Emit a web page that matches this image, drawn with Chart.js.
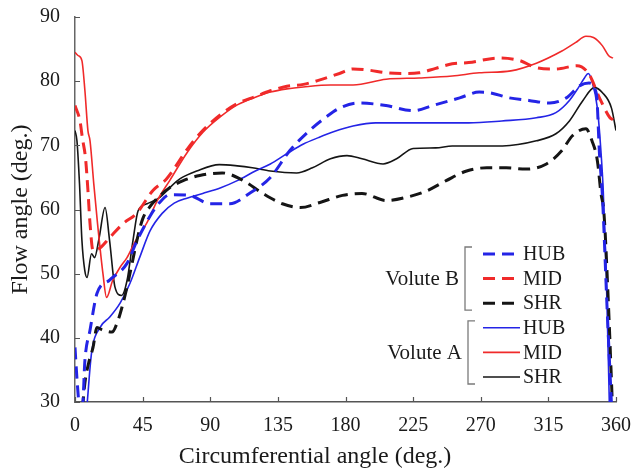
<!DOCTYPE html>
<html>
<head>
<meta charset="utf-8">
<script src="https://cdn.jsdelivr.net/npm/chart.js@4/dist/chart.umd.min.js"></script>
<style>
  html, body { margin: 0; padding: 0; background: #ffffff; }
  #chart { display: block; }
</style>
</head>
<body>
<canvas id="chart" width="631" height="471"></canvas>
<script>
// Flow angle around the volute circumference, three spans per volute.
// Circumferential angle (deg.)
const xTicks = [0, 45, 90, 135, 180, 225, 270, 315, 360];
const yTicks = [30, 40, 50, 60, 70, 80, 90];

// Volute B, hub (dashed)
const hubBX = [0, 1.5, 3, 5, 6.6, 10, 14.6, 23, 34.6, 41, 50, 56, 63, 76, 90, 103, 116, 130, 143, 156, 167, 176, 189, 207, 225, 238, 256, 269, 276, 289, 302, 316, 327, 336, 342, 347, 349, 351, 354, 357];
const hubBY = [38.5, 33, 29.5, 29.5, 36.5, 41.2, 46.9, 49, 51.6, 55, 59, 61, 62.3, 62.2, 60.9, 60.9, 62.5, 65, 69.2, 72.3, 74.4, 75.8, 76.6, 76.2, 75.4, 76.2, 77.4, 78.3, 78.2, 77.4, 77, 76.6, 77.4, 79.3, 79.7, 78, 68.7, 61.9, 45, 29.5];

// Volute B, mid span (dashed)
const midBX = [0, 3.3, 5, 7, 8.6, 10, 12, 16.6, 23, 32, 41, 52, 61, 75, 85, 97, 108, 120, 130, 141, 152, 163, 176, 185, 196, 207, 218, 229, 240, 251, 262, 282, 296, 307, 320, 334, 342, 349, 356, 358];
const midBY = [76.2, 73.8, 71, 68, 63, 57.8, 53.6, 54, 55.6, 57.8, 59.4, 63, 64.8, 69.5, 72.3, 74.8, 76.5, 77.6, 78.5, 79.2, 79.5, 80.2, 81.2, 81.9, 81.7, 81.3, 81.2, 81.3, 82, 82.7, 82.9, 83.6, 83.2, 82.1, 81.9, 82.4, 81.1, 77.4, 74.3, 74];

// Volute B, shroud (dashed)
const shrBX = [5, 6.6, 9, 12, 14.6, 18.6, 24.6, 28.6, 32, 34.6, 38, 41, 45, 50, 56, 63, 72, 83, 98, 112, 125, 138, 150, 163, 178, 191, 207, 220.6, 234, 247, 260.6, 274, 287, 300, 313.7, 324, 331, 340, 344, 347.6, 350, 352, 355, 357.6];
const shrBY = [29, 33, 36, 38.5, 41.6, 41.2, 40.9, 42.7, 45.4, 47.9, 51.6, 55, 58.5, 60.5, 62, 63.4, 64.5, 65.3, 65.7, 64.5, 62.5, 60.9, 60.3, 61.1, 62.2, 62.5, 61.4, 61.9, 62.9, 64.5, 66, 66.5, 66.5, 66.3, 67.1, 69.2, 71.5, 72.6, 70.7, 67.6, 62.5, 59.4, 45, 29.5];

// Volute A, hub (solid)
const hubAX = [8, 11, 16.6, 23, 30, 36.6, 43, 50, 58, 66, 75, 85, 97, 108, 120, 130, 141, 152, 162, 172, 185, 200, 230, 262, 284, 307, 320, 329, 335, 339, 341.5, 344, 347.6, 350, 351.5, 353.5, 355.6];
const hubAY = [29.5, 37.6, 41.6, 43.2, 45.4, 48.5, 52.5, 56.7, 59.4, 61, 61.8, 62.5, 63.4, 64.5, 66, 67.1, 68.7, 70.2, 71.2, 72.1, 73, 73.5, 73.5, 73.5, 73.8, 74.3, 75.1, 77, 79, 80.5, 81.2, 80, 75.8, 69, 63, 50, 29.5];

// Volute A, mid span (solid)
const midAX = [0, 2, 4.6, 6.6, 8.6, 10, 12.5, 15, 18.6, 21, 25, 30, 34.6, 40, 48, 55, 63, 75, 85, 97, 108, 120, 130, 141, 152, 170, 185, 207, 229, 251, 269, 290, 307, 324, 333, 340, 345, 351, 355, 358];
const midAY = [84.5, 84, 83.2, 78.5, 72.3, 70.7, 64, 57.8, 50, 46.3, 48.9, 51, 52.5, 55, 58, 61.5, 64.5, 69, 72, 74.5, 76.3, 77.5, 78.3, 78.8, 79.1, 79.4, 79.4, 80.3, 80.5, 80.8, 81.3, 81.6, 82.8, 84.7, 86, 87, 86.8, 85.5, 84, 83.6];

// Volute A, shroud (solid)
const shrAX = [0, 1.3, 3, 4.6, 6.5, 8, 11, 13, 16, 20, 23, 26.6, 31, 34.6, 38.6, 42, 48, 56.5, 63, 70, 81, 96, 108, 118, 130, 147.5, 158, 170, 181, 191, 205, 214, 225, 240, 251, 269, 284.5, 307, 320, 329, 338, 345.6, 351, 357, 360];
const shrAY = [72.3, 70.7, 64, 55.2, 50.5, 49.4, 53.1, 52.5, 55.5, 60.3, 55.2, 47.9, 46.6, 48.9, 55.2, 59.8, 60.9, 61.9, 63.4, 64.8, 66, 67, 66.8, 66.5, 66, 65.7, 66.5, 67.9, 68.4, 67.9, 67.1, 67.9, 69.5, 69.6, 69.9, 69.9, 69.9, 70.7, 71.8, 73.8, 77, 79, 78.2, 75.8, 72.3];

const BLUE = '#2424e6';
const RED = '#f02a2a';
const BLACK = '#151515';
const TEXT = '#1a1a1a';
const SERIF = '"Liberation Serif", "Times New Roman", serif';
const X_TITLE = 'Circumferential angle (deg.)';

function points(xs, ys) {
  return xs.map((x, i) => ({ x: x, y: ys[i] }));
}

function series(label, group, xs, ys, color, dashed) {
  return {
    label: label,
    group: group,
    data: points(xs, ys),
    borderColor: color,
    backgroundColor: color,
    borderWidth: dashed ? 3 : 1.6,
    borderDash: dashed ? [12, 7] : [],
    pointRadius: 0,
    fill: false,
    cubicInterpolationMode: 'monotone'
  };
}

const datasets = [
  series('HUB', 'Volute B', hubBX, hubBY, BLUE, true),
  series('MID', 'Volute B', midBX, midBY, RED, true),
  series('SHR', 'Volute B', shrBX, shrBY, BLACK, true),
  series('HUB', 'Volute A', hubAX, hubAY, BLUE, false),
  series('MID', 'Volute A', midAX, midAY, RED, false),
  series('SHR', 'Volute A', shrAX, shrAY, BLACK, false)
];

// Short tick marks pointing into the plot area
const inwardTicks = {
  id: 'inwardTicks',
  afterDraw(chart) {
    const { ctx, chartArea, scales } = chart;
    ctx.save();
    ctx.strokeStyle = '#555555';
    ctx.lineWidth = 1.2;
    ctx.beginPath();
    xTicks.forEach(v => {
      const px = Math.round(scales.x.getPixelForValue(v)) + 0.5;
      ctx.moveTo(px, chartArea.bottom);
      ctx.lineTo(px, chartArea.bottom - 5);
    });
    yTicks.forEach(v => {
      const py = Math.round(scales.y.getPixelForValue(v)) + 0.5;
      ctx.moveTo(chartArea.left, py);
      ctx.lineTo(chartArea.left + 5, py);
    });
    ctx.stroke();
    ctx.restore();
  }
};

// Horizontal axis title, set a little left of the plot centre
const xAxisTitle = {
  id: 'xAxisTitle',
  afterDraw(chart) {
    const { ctx, chartArea } = chart;
    ctx.save();
    ctx.fillStyle = TEXT;
    ctx.font = '24px ' + SERIF;
    ctx.textAlign = 'center';
    ctx.textBaseline = 'alphabetic';
    ctx.fillText(X_TITLE, chartArea.left + 240, chartArea.bottom + 61);
    ctx.restore();
  }
};

// Grouped legend: one bracket per volute, three line samples each
const groupedLegend = {
  id: 'groupedLegend',
  afterDatasetsDraw(chart) {
    const { ctx, chartArea } = chart;
    const lineX0 = chartArea.left + 408;
    const lineX1 = lineX0 + 37;
    const textX = lineX1 + 3;
    const rowY0 = chartArea.top + 237;
    const rowStep = 24.6;
    ctx.save();
    chart.data.datasets.forEach((ds, i) => {
      const y = rowY0 + i * rowStep;
      ctx.strokeStyle = ds.borderColor;
      ctx.lineWidth = ds.borderWidth;
      ctx.setLineDash(ds.borderDash);
      ctx.beginPath();
      ctx.moveTo(lineX0, y);
      ctx.lineTo(lineX1, y);
      ctx.stroke();
      ctx.setLineDash([]);
      ctx.fillStyle = TEXT;
      ctx.font = '20px ' + SERIF;
      ctx.textAlign = 'left';
      ctx.textBaseline = 'middle';
      ctx.fillText(ds.label, textX, y + 1);
    });
    const groups = ['Volute B', 'Volute A'];
    groups.forEach((g, gi) => {
      const yTop = rowY0 + gi * 3 * rowStep - 7;
      const yBot = rowY0 + (gi * 3 + 2) * rowStep + 7;
      const bx = lineX0 - 18 + gi * 3;
      ctx.strokeStyle = '#7a7a7a';
      ctx.lineWidth = 1.3;
      ctx.beginPath();
      ctx.moveTo(bx + 7, yTop);
      ctx.lineTo(bx, yTop);
      ctx.lineTo(bx, yBot);
      ctx.lineTo(bx + 7, yBot);
      ctx.stroke();
      ctx.fillStyle = TEXT;
      ctx.font = '21px ' + SERIF;
      ctx.textAlign = 'right';
      ctx.textBaseline = 'middle';
      ctx.fillText(g, bx - 6, (yTop + yBot) / 2 + 1);
    });
    ctx.restore();
  }
};

new Chart(document.getElementById('chart'), {
  type: 'line',
  data: { datasets: datasets },
  options: {
    responsive: false,
    animation: false,
    devicePixelRatio: 1,
    layout: { padding: { left: 0, right: 15, top: 17, bottom: 0 } },
    plugins: {
      legend: { display: false },
      tooltip: { enabled: false }
    },
    scales: {
      x: {
        type: 'linear',
        min: 0,
        max: 360,
        afterBuildTicks(scale) { scale.ticks = xTicks.map(v => ({ value: v })); },
        afterFit(scale) {
          scale.height = 69;
          scale.paddingLeft = 0;
          scale.paddingRight = 0;
        },
        grid: { display: false },
        border: { display: true, color: '#555555', width: 1.5 },
        ticks: { color: TEXT, padding: 4, font: { family: SERIF, size: 20 } },
        title: { display: false, text: X_TITLE }
      },
      y: {
        type: 'linear',
        min: 30,
        max: 90,
        afterBuildTicks(scale) { scale.ticks = yTicks.map(v => ({ value: v })); },
        afterFit(scale) {
          scale.width = 75;
          scale.paddingTop = 0;
          scale.paddingBottom = 0;
        },
        grid: { display: false },
        border: { display: true, color: '#666666', width: 1.5 },
        ticks: { color: TEXT, padding: 7, font: { family: SERIF, size: 20 } },
        title: {
          display: true,
          text: 'Flow angle (deg.)',
          color: TEXT,
          padding: { top: 6, bottom: 0 },
          font: { family: SERIF, size: 24 }
        }
      }
    }
  },
  plugins: [inwardTicks, xAxisTitle, groupedLegend]
});
</script>
</body>
</html>
